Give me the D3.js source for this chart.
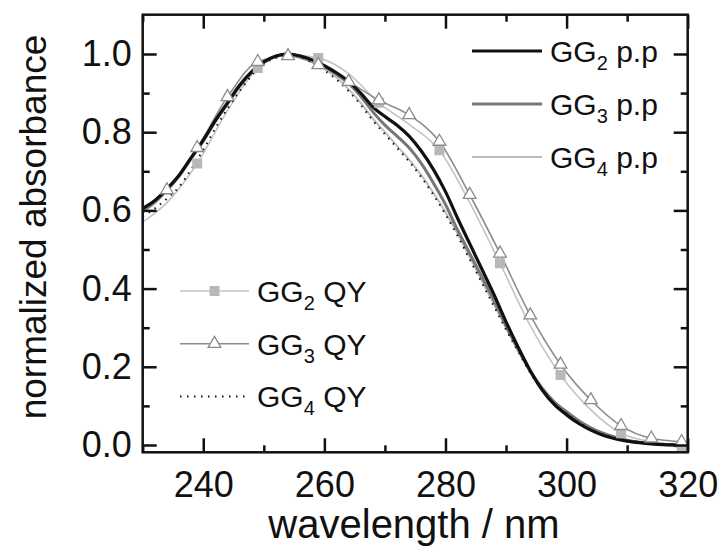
<!DOCTYPE html>
<html>
<head>
<meta charset="utf-8">
<script src="https://cdn.jsdelivr.net/npm/d3@7"></script>
<style>
    body { margin: 0; background: #fff; }
    text { font-family: "Liberation Sans", Arial, sans-serif; fill: #111; }
</style>
</head>
<body>
<svg id="chart" width="720" height="550"></svg>
<script>
// wavelength grid of the p.p spectra and GG4 QY (nm)
const wavelengths = [230, 232, 234, 236, 238, 240, 242, 244, 246, 248, 250, 252, 254, 256, 258, 260,
    262, 264, 266, 268, 270, 272, 274, 276, 278, 280, 282, 284, 286, 288, 290, 292, 294, 296, 298, 300,
    302, 304, 306, 308, 310, 312, 314, 316, 318, 320];

const gg2_pp = [0.605, 0.625, 0.655, 0.69, 0.735, 0.78, 0.83, 0.875, 0.92, 0.955, 0.98, 0.995, 1.0, 0.995, 0.985, 0.97,
    0.952, 0.93, 0.90, 0.865, 0.84, 0.818, 0.79, 0.752, 0.705, 0.648, 0.58, 0.515, 0.45, 0.385, 0.315, 0.25, 0.19, 0.14, 0.103, 0.077,
    0.055, 0.038, 0.025, 0.016, 0.01, 0.006, 0.003, 0.001, 0.0, 0.0];

const gg3_pp = [0.60, 0.622, 0.652, 0.688, 0.733, 0.778, 0.828, 0.873, 0.918, 0.953, 0.979, 0.994, 1.0, 0.995, 0.984, 0.968,
    0.948, 0.925, 0.892, 0.852, 0.818, 0.79, 0.76, 0.72, 0.67, 0.615, 0.55, 0.49, 0.43, 0.37, 0.305, 0.245, 0.19, 0.145, 0.11, 0.085,
    0.062, 0.044, 0.03, 0.02, 0.012, 0.007, 0.004, 0.002, 0.001, 0.0];

const gg4_pp = [0.595, 0.618, 0.65, 0.685, 0.73, 0.775, 0.825, 0.87, 0.915, 0.95, 0.978, 0.993, 1.0, 0.995, 0.982, 0.962,
    0.94, 0.91, 0.875, 0.835, 0.80, 0.765, 0.73, 0.69, 0.645, 0.595, 0.54, 0.48, 0.42, 0.36, 0.30, 0.24, 0.185, 0.14, 0.105, 0.08,
    0.058, 0.041, 0.028, 0.018, 0.011, 0.007, 0.004, 0.002, 0.001, 0.0];

const gg4_qy = [0.585, 0.605, 0.63, 0.66, 0.705, 0.755, 0.81, 0.86, 0.905, 0.945, 0.975, 0.99, 1.0, 0.993, 0.978, 0.958,
    0.935, 0.905, 0.87, 0.83, 0.795, 0.76, 0.725, 0.685, 0.64, 0.59, 0.535, 0.475, 0.415, 0.355, 0.295, 0.24, 0.185, 0.14, 0.105, 0.08,
    0.058, 0.04, 0.027, 0.018, 0.011, 0.007, 0.004, 0.002, 0.001, 0.0];

// QY spectra with symbols, sampled at the symbol spacing
const qy_wavelengths = [230, 234, 239, 244, 249, 254, 259, 264, 269, 274, 279, 284, 289, 294, 299, 304, 309, 314, 319, 320];
const gg2_qy = [0.57, 0.62, 0.72, 0.855, 0.964, 0.998, 0.99, 0.95, 0.875, 0.82, 0.754, 0.62, 0.465, 0.305, 0.179, 0.09, 0.03, 0.008, -0.006, -0.006];
const gg3_qy = [0.605, 0.652, 0.76, 0.89, 0.98, 0.995, 0.972, 0.929, 0.882, 0.844, 0.776, 0.64, 0.49, 0.332, 0.206, 0.115, 0.049, 0.017, 0.008, 0.007];
const gg2_qy_marks = [239, 249, 259, 269, 279, 289, 299, 309, 319];
const gg3_qy_marks = [234, 239, 244, 249, 254, 259, 264, 269, 274, 279, 284, 289, 294, 299, 304, 309, 314, 319];

const x_ticks = [240, 260, 280, 300, 320];
const x_minor = [230, 250, 270, 290, 310];
const y_ticks = [0.0, 0.2, 0.4, 0.6, 0.8, 1.0];
const y_minor = [0.1, 0.3, 0.5, 0.7, 0.9];

const pp_series = [
    {label: '2', values: gg2_pp, color: '#111', width: 3.2},
    {label: '3', values: gg3_pp, color: '#777', width: 3},
    {label: '4', values: gg4_pp, color: '#bdbdbd', width: 2}
];

const svg = d3.select('#chart');
const plot = {left: 142.7, right: 687.7, top: 14.7, bottom: 452.3};

const x = d3.scaleLinear().domain([230, 320]).range([plot.left, plot.right]);
const y = d3.scaleLinear().domain([-0.0187, 1.1005]).range([plot.bottom, plot.top]);

svg.append('clipPath').attr('id', 'clip')
    .append('rect')
    .attr('x', plot.left).attr('y', plot.top)
    .attr('width', plot.right - plot.left).attr('height', plot.bottom - plot.top);

const curves = svg.append('g').attr('clip-path', 'url(#clip)');

const line = (xs) => d3.line()
    .x((d, i) => x(xs[i]))
    .y((d) => y(d))
    .curve(d3.curveMonotoneX);

// QY lines with symbols (drawn first, under the p.p spectra where they overlap)
curves.append('path')
    .attr('d', line(qy_wavelengths)(gg2_qy))
    .attr('fill', 'none').attr('stroke', '#c4c4c4').attr('stroke-width', 1.6);
curves.append('path')
    .attr('d', line(qy_wavelengths)(gg3_qy))
    .attr('fill', 'none').attr('stroke', '#8c8c8c').attr('stroke-width', 1.6);

pp_series.slice().reverse().forEach((s) => {
    curves.append('path')
        .attr('d', line(wavelengths)(s.values))
        .attr('fill', 'none')
        .attr('stroke', s.color)
        .attr('stroke-width', s.width)
        .attr('stroke-linejoin', 'round');
});

curves.append('path')
    .attr('d', line(wavelengths)(gg4_qy))
    .attr('fill', 'none').attr('stroke', '#111').attr('stroke-width', 2)
    .attr('stroke-dasharray', '1.5,5.5');

const square = d3.symbol().type(d3.symbolSquare).size(100);
const triangle = d3.symbol().type(d3.symbolTriangle).size(70);

curves.selectAll('.sq')
    .data(gg2_qy_marks)
    .join('path')
    .attr('transform', (w) => `translate(${x(w)},${y(gg2_qy[qy_wavelengths.indexOf(w)])})`)
    .attr('d', square)
    .attr('fill', '#b8b8b8');

curves.selectAll('.tri')
    .data(gg3_qy_marks)
    .join('path')
    .attr('transform', (w) => `translate(${x(w)},${y(gg3_qy[qy_wavelengths.indexOf(w)])})`)
    .attr('d', triangle)
    .attr('fill', '#fff').attr('stroke', '#8c8c8c').attr('stroke-width', 1.3);

// axes: ticks point into the frame on all four sides
const addAxis = (axis, transform, labels) => {
    const g = svg.append('g').attr('transform', transform).call(axis);
    g.select('.domain').remove();
    g.selectAll('line').attr('stroke', '#111').attr('stroke-width', 2.5);
    if (labels) {
        g.selectAll('text')
            .style('font-family', '"Liberation Sans", Arial, sans-serif')
            .style('font-size', '36px')
            .attr('fill', '#111');
    } else {
        g.selectAll('text').remove();
    }
    return g;
};

addAxis(d3.axisBottom(x).tickValues(x_ticks).tickSizeInner(-14).tickSizeOuter(0).tickPadding(19).tickFormat(d3.format('d')),
    `translate(0,${plot.bottom})`, true);
addAxis(d3.axisBottom(x).tickValues(x_minor).tickSizeInner(-7).tickSizeOuter(0), `translate(0,${plot.bottom})`, false);
addAxis(d3.axisTop(x).tickValues(x_ticks).tickSizeInner(-14).tickSizeOuter(0), `translate(0,${plot.top})`, false);
addAxis(d3.axisTop(x).tickValues(x_minor).tickSizeInner(-7).tickSizeOuter(0), `translate(0,${plot.top})`, false);
addAxis(d3.axisLeft(y).tickValues(y_ticks).tickSizeInner(-14).tickSizeOuter(0).tickPadding(11).tickFormat(d3.format('.1f')),
    `translate(${plot.left},0)`, true);
addAxis(d3.axisLeft(y).tickValues(y_minor).tickSizeInner(-7).tickSizeOuter(0), `translate(${plot.left},0)`, false);
addAxis(d3.axisRight(y).tickValues(y_ticks).tickSizeInner(-14).tickSizeOuter(0), `translate(${plot.right},0)`, false);
addAxis(d3.axisRight(y).tickValues(y_minor).tickSizeInner(-7).tickSizeOuter(0), `translate(${plot.right},0)`, false);

svg.append('rect')
    .attr('x', plot.left).attr('y', plot.top)
    .attr('width', plot.right - plot.left).attr('height', plot.bottom - plot.top)
    .attr('fill', 'none').attr('stroke', '#111').attr('stroke-width', 2.5);

svg.append('text')
    .attr('x', 414).attr('y', 538)
    .attr('text-anchor', 'middle')
    .style('font-size', '40px')
    .text('wavelength / nm');

svg.append('text')
    .attr('transform', 'translate(46,227) rotate(-90)')
    .attr('text-anchor', 'middle')
    .style('font-size', '37px')
    .text('normalized absorbance');

// legends
const legendLabel = (g, tx, ty, sub, rest) => {
    const t = g.append('text').attr('x', tx).attr('y', ty).style('font-size', '30px');
    t.append('tspan').text('GG');
    t.append('tspan').attr('dy', 8).style('font-size', '20px').text(sub);
    t.append('tspan').attr('dy', -8).text(rest);
};

const legend_pp = svg.append('g');
pp_series.forEach((s, i) => {
    const ly = 51 + i * 53;
    legend_pp.append('line')
        .attr('x1', 472).attr('x2', 542).attr('y1', ly).attr('y2', ly)
        .attr('stroke', s.color).attr('stroke-width', s.width);
    legendLabel(legend_pp, 550, ly + 11, s.label, ' p.p');
});

const legend_qy = svg.append('g');
const qy_rows = [
    {label: '2', color: '#c4c4c4', symbol: square, fill: '#b8b8b8', stroke: 'none', dash: null},
    {label: '3', color: '#8c8c8c', symbol: triangle, fill: '#fff', stroke: '#8c8c8c', dash: null},
    {label: '4', color: '#111', symbol: null, dash: '1.5,5.5'}
];
qy_rows.forEach((r, i) => {
    const ly = 291 + i * 52.7;
    legend_qy.append('line')
        .attr('x1', 180).attr('x2', 249).attr('y1', ly).attr('y2', ly)
        .attr('stroke', r.color)
        .attr('stroke-width', r.dash ? 2 : 1.6)
        .attr('stroke-dasharray', r.dash);
    if (r.symbol) {
        legend_qy.append('path')
            .attr('transform', `translate(214.5,${ly})`)
            .attr('d', r.symbol)
            .attr('fill', r.fill).attr('stroke', r.stroke).attr('stroke-width', 1.3);
    }
    legendLabel(legend_qy, 257, ly + 11, r.label, ' QY');
});
</script>
</body>
</html>
